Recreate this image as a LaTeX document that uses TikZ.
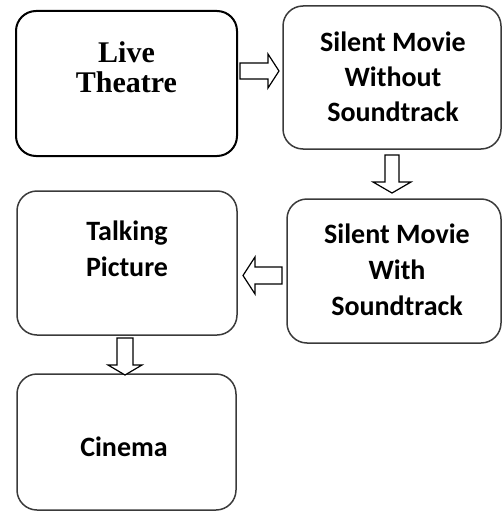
\documentclass[tikz,border=0pt]{standalone}
\usepackage{fontspec}
\newfontfamily\lserif{Liberation Serif}
\newfontfamily\calib{Carlito}
\definecolor{boxgray}{HTML}{3A3A3A}
\begin{document}
\begin{tikzpicture}[x=1pt,y=-1pt,
  box/.style={draw=boxgray, line width=1.5pt, rounded corners=20pt, inner sep=0pt},
  firstbox/.style={box, draw=black, line width=2pt},
  serift/.style={font=\lserif\bfseries\fontsize{30}{30}\selectfont, align=center, inner sep=0pt},
  sanst/.style={font=\calib\bfseries\fontsize{28}{36}\selectfont, align=center, inner sep=0pt},
  blockarrow/.style={draw=black, fill=white, line width=1.2pt, line join=miter}]
\useasboundingbox (0,0) rectangle (502,511);
% boxes
\node[firstbox, minimum width=221pt, minimum height=145pt] (b1) at (126.5,83.5) {};
\node[box, minimum width=218pt, minimum height=143pt] (b2) at (392,77.5) {};
\node[box, minimum width=220pt, minimum height=144pt] (b3) at (127,263) {};
\node[box, minimum width=214pt, minimum height=144pt] (b4) at (394,271) {};
\node[box, minimum width=219pt, minimum height=136pt] (b5) at (126.5,442) {};
% texts
\node[serift] (t1) at (126.5,67.6) {Live\\Theatre};
\node[sanst, font=\calib\bfseries\fontsize{28}{35}\selectfont] (t2) at (393,77.2) {Silent Movie\\Without\\Soundtrack};
\node[sanst] (t3) at (127,248.7) {Talking\\Picture};
\node[sanst] (t4) at (397,270.2) {Silent Movie\\With\\Soundtrack};
\node[sanst] (t5) at (124,446.5) {Cinema};
% block arrows
\draw[blockarrow] (240,63) -- (268,63) -- (268,54) -- (279,71) -- (268,88) -- (268,79) -- (240,79) -- cycle;
\draw[blockarrow] (385,155) -- (399,155) -- (399,182) -- (411,182) -- (392,193) -- (373,182) -- (385,182) -- cycle;
\draw[blockarrow] (282,267) -- (255,267) -- (255,257) -- (243,275.5) -- (255,294) -- (255,284) -- (282,284) -- cycle;
\draw[blockarrow] (117,338) -- (133,338) -- (133,365) -- (142,365) -- (125,375) -- (108,365) -- (117,365) -- cycle;
\end{tikzpicture}
\end{document}
